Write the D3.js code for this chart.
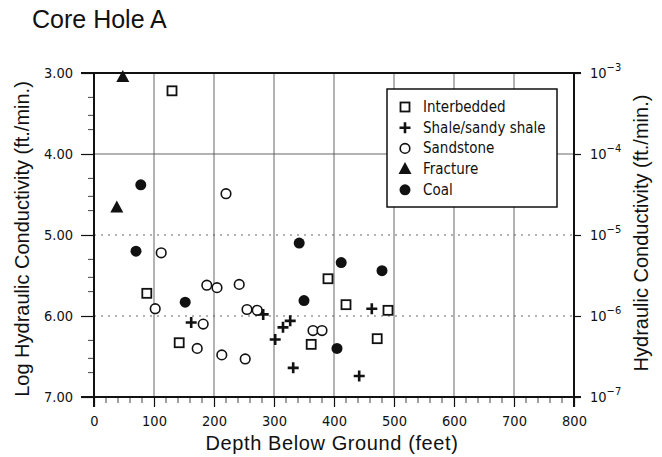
<!DOCTYPE html>
<html><head><meta charset="utf-8">
<script src="https://cdn.jsdelivr.net/npm/d3@7"></script>
<style>
body{margin:0;background:#fff;}
text{font-family:"Liberation Sans",Arial,Helvetica,sans-serif;fill:#111;}
.tick{font-family:"Liberation Sans Narrow","DejaVu Sans Condensed","Liberation Sans",sans-serif;}
</style></head>
<body><svg id="c" width="662" height="457"></svg>
<script>
// ---- data (depth in feet, log hydraulic conductivity) ----
const interbeddedDepth = [130, 88, 142, 390, 420, 490, 362, 472];
const interbeddedLogK  = [3.22, 5.72, 6.33, 5.54, 5.86, 5.93, 6.35, 6.28];
const shaleDepth = [162, 282, 302, 315, 327, 332, 463, 442];
const shaleLogK  = [6.08, 5.98, 6.29, 6.14, 6.06, 6.64, 5.91, 6.74];
const sandstoneDepth = [220, 112, 102, 188, 205, 242, 255, 272, 182, 172, 213, 252, 365, 380];
const sandstoneLogK  = [4.49, 5.22, 5.91, 5.62, 5.65, 5.61, 5.92, 5.93, 6.10, 6.40, 6.48, 6.53, 6.18, 6.18];
const fractureDepth = [48, 38];
const fractureLogK  = [3.05, 4.66];
const coalDepth = [78, 70, 152, 342, 350, 412, 480, 405];
const coalLogK  = [4.38, 5.20, 5.83, 5.10, 5.81, 5.34, 5.44, 6.40];

const seriesNames = ["Interbedded", "Shale/sandy shale", "Sandstone", "Fracture", "Coal"];
const xTicks = [0, 100, 200, 300, 400, 500, 600, 700, 800];
const yTicks = [3, 4, 5, 6, 7];
const yTickLabels = ["3.00", "4.00", "5.00", "6.00", "7.00"];
const rightTickExp = ["-3", "-4", "-5", "-6", "-7"];

const series = [
  {name: seriesNames[0], shape: "square", d: interbeddedDepth, v: interbeddedLogK},
  {name: seriesNames[1], shape: "plus", d: shaleDepth, v: shaleLogK},
  {name: seriesNames[2], shape: "circle", d: sandstoneDepth, v: sandstoneLogK},
  {name: seriesNames[3], shape: "triangle", d: fractureDepth, v: fractureLogK},
  {name: seriesNames[4], shape: "dot", d: coalDepth, v: coalLogK}
];

const svg = d3.select("#c");
const L = 94, R = 574, T = 73, B = 397;
const x = d3.scaleLinear().domain([0, 800]).range([L, R]);
const y = d3.scaleLinear().domain([3, 7]).range([T, B]);

// title
svg.append("text").attr("x", 32).attr("y", 28).attr("font-size", 25).text("Core Hole A");

// grid
const g = svg.append("g");
xTicks.slice(1, -1).forEach(t => {
  g.append("line").attr("x1", x(t)).attr("x2", x(t)).attr("y1", T).attr("y2", B)
   .attr("stroke", "#555").attr("stroke-width", 0.9);
});
[4, 5, 6].forEach(t => {
  g.append("line").attr("x1", L).attr("x2", R).attr("y1", y(t)).attr("y2", y(t))
   .attr("stroke", "#555").attr("stroke-width", 0.9)
   .attr("stroke-dasharray", t === 4 ? null : "2,5");
});

// axes
const xAxis = d3.axisBottom(x).tickValues(xTicks).tickSize(10).tickPadding(9).tickFormat(d3.format("d"));
const gx = svg.append("g").attr("transform", `translate(0,${B})`).call(xAxis);
gx.select(".domain").remove();
gx.selectAll(".tick line").attr("stroke", "#111").attr("stroke-width", 1.2);
gx.selectAll(".tick text").attr("class", "tick").attr("font-size", 14.5).attr("fill", "#111");
// minor x ticks
const xMinor = d3.range(20, 800, 20).filter(v => v % 100 !== 0);
svg.append("g").selectAll("line").data(xMinor).join("line")
  .attr("x1", d => x(d)).attr("x2", d => x(d)).attr("y1", B).attr("y2", B + 6)
  .attr("stroke", "#444").attr("stroke-width", 1);

const yAxis = d3.axisLeft(y).tickValues(yTicks).tickSize(13).tickPadding(8)
  .tickFormat((d, i) => yTickLabels[i]);
const gy = svg.append("g").attr("transform", `translate(${L},0)`).call(yAxis);
gy.select(".domain").remove();
gy.selectAll(".tick line").attr("stroke", "#111").attr("stroke-width", 1.2);
gy.selectAll(".tick text").attr("class", "tick").attr("font-size", 14.5).attr("fill", "#111");
// minor y ticks (log positions)
const yMinor = [];
[3, 4, 5, 6].forEach(dec => [2, 3, 5].forEach(m => yMinor.push(dec + 1 - Math.log10(m))));
svg.append("g").selectAll("line").data(yMinor).join("line")
  .attr("x1", L - 6).attr("x2", L).attr("y1", d => y(d)).attr("y2", d => y(d))
  .attr("stroke", "#444").attr("stroke-width", 1);

// right axis
const yAxisR = d3.axisRight(y).tickValues(yTicks).tickSize(7).tickFormat("");
const gr = svg.append("g").attr("transform", `translate(${R},0)`).call(yAxisR);
gr.select(".domain").remove();
gr.selectAll(".tick line").attr("stroke", "#111").attr("stroke-width", 1.2);
yTicks.forEach((t, i) => {
  const tx = svg.append("text").attr("class", "tick").attr("x", R + 16).attr("y", y(t) + 5).attr("font-size", 14.5);
  tx.append("tspan").text("10");
  tx.append("tspan").attr("dy", -7).attr("font-size", 11).text(rightTickExp[i].replace("-", "\u2212"));
});

// frame
svg.append("line").attr("x1", L - 13).attr("x2", R + 7).attr("y1", T).attr("y2", T).attr("stroke", "#111").attr("stroke-width", 2);
svg.append("line").attr("x1", L).attr("x2", L).attr("y1", T).attr("y2", B + 10).attr("stroke", "#111").attr("stroke-width", 2);
svg.append("line").attr("x1", L - 13).attr("x2", R + 7).attr("y1", B).attr("y2", B).attr("stroke", "#111").attr("stroke-width", 2);
svg.append("line").attr("x1", R).attr("x2", R).attr("y1", T).attr("y2", B + 10).attr("stroke", "#111").attr("stroke-width", 2);

// axis titles
svg.append("text").attr("x", x(400) - 2).attr("y", 450).attr("text-anchor", "middle").attr("font-size", 20)
  .attr("letter-spacing", 0.6).text("Depth Below Ground (feet)");
svg.append("text").attr("transform", `translate(29,${(T + B) / 2 + 4}) rotate(-90)`).attr("text-anchor", "middle")
  .attr("font-size", 20).text("Log Hydraulic Conductivity (ft./min.)");
svg.append("text").attr("transform", `translate(648,${(T + B) / 2 - 2}) rotate(-90)`).attr("text-anchor", "middle")
  .attr("font-size", 20).text("Hydraulic Conductivity (ft./min.)");

// symbols
function drawSym(sel, shape) {
  if (shape === "square") {
    sel.append("rect").attr("x", -4.5).attr("y", -4.5).attr("width", 9).attr("height", 9)
      .attr("fill", "#fff").attr("stroke", "#111").attr("stroke-width", 1.8);
  } else if (shape === "plus") {
    sel.append("path").attr("d", "M-5.5,0H5.5M0,-5.5V5.5").attr("stroke", "#111").attr("stroke-width", 2.6);
  } else if (shape === "circle") {
    sel.append("circle").attr("r", 4.8).attr("fill", "#fff").attr("stroke", "#111").attr("stroke-width", 1.6);
  } else if (shape === "triangle") {
    sel.append("path").attr("d", "M0,-7L6.5,5L-6.5,5Z").attr("fill", "#111");
  } else {
    sel.append("circle").attr("r", 5.5).attr("fill", "#111");
  }
}
series.forEach(s => {
  s.d.forEach((dv, i) => {
    const gg = svg.append("g").attr("transform", `translate(${x(dv)},${y(s.v[i])})`);
    drawSym(gg, s.shape);
  });
});

// legend
const lg = svg.append("g");
lg.append("rect").attr("x", 387).attr("y", 89).attr("width", 170).attr("height", 118)
  .attr("fill", "#fff").attr("stroke", "#111").attr("stroke-width", 1.5);
series.forEach((s, i) => {
  const yy = 107 + i * 20.7;
  const gg = lg.append("g").attr("transform", `translate(405,${yy})`);
  drawSym(gg, s.shape);
  lg.append("text").attr("class", "tick").attr("x", 423).attr("y", yy + 5).attr("font-size", 15).text(s.name);
});
</script></body></html>
